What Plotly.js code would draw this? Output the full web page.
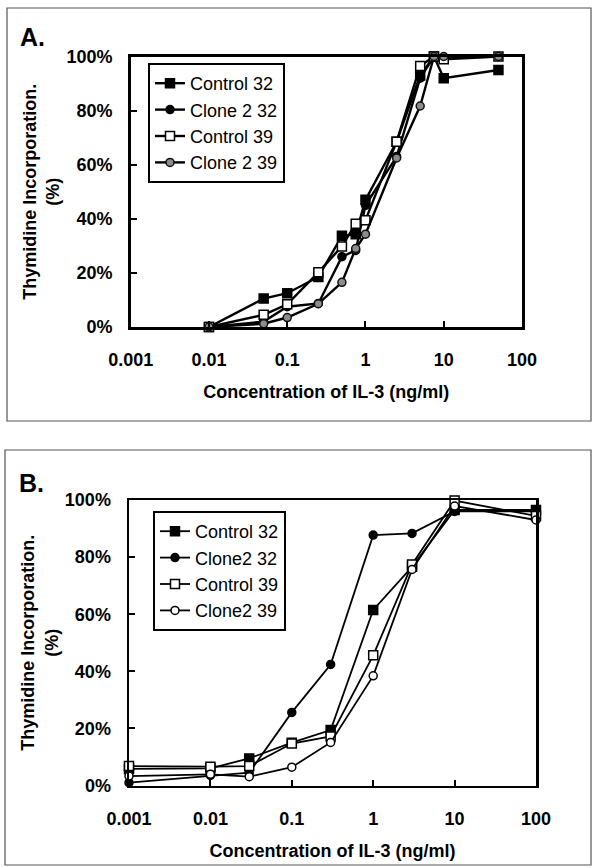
<!DOCTYPE html>
<html>
<head>
<meta charset="utf-8">
<script src="https://cdn.plot.ly/plotly-3.0.1.min.js"></script>
<style>
  html, body { margin: 0; padding: 0; background: #ffffff; }
  #chart { width: 594px; height: 868px; }
</style>
</head>
<body>
<div id="chart"></div>
<script>
// ---------- Data ----------
const concA = [0.01, 0.05, 0.1, 0.25, 0.5, 0.75, 1, 2.5, 5, 7.5, 10, 50];
const aControl32 = [0, 10.5, 12.5, 18.5, 33.7, 34.3, 47, 68.5, 93, 100, 92, 95];
const aClone2_32 = [0, 2, 7.5, 8.7, 26, 28.3, 45, 63, 92, 100, 99.5, 100];
const aControl39 = [0, 4.5, 8.4, 20.2, 29.8, 38.2, 39.5, 68.5, 96.5, 100, 99, 100];
const aClone2_39 = [0, 1.2, 3.5, 8.6, 16.5, 29, 34.3, 62.5, 81.7, 100, 100, 100];

const concB = [0.001, 0.01, 0.03, 0.1, 0.3, 1, 3, 10, 100];
const bControl32 = [5.8, 6, 9.5, 15, 19.4, 61.5, 76.6, 96.5, 96.5];
const bClone2_32 = [1, 3.5, 4.5, 25.6, 42.4, 87.7, 88.3, 96, 96];
const bControl39 = [6.8, 6.6, 6.8, 14.7, 17.2, 45.6, 77.4, 99.8, 94.4];
const bClone2_39 = [3.3, 3.9, 3.1, 6.4, 15.1, 38.4, 75.7, 97.9, 93];

const namesA = ['Control 32', 'Clone 2 32', 'Control 39', 'Clone 2 39'];
const namesB = ['Control 32', 'Clone2 32', 'Control 39', 'Clone2 39'];

const xTickVals = [0.001, 0.01, 0.1, 1, 10, 100];
const xTickText = ['0.001', '0.01', '0.1', '1', '10', '100'];
const yTickVals = [0, 20, 40, 60, 80, 100];
const yTickText = ['0%', '20%', '40%', '60%', '80%', '100%'];

const xTitle = 'Concentration of IL-3 (ng/ml)';
const yTitle = 'Thymidine Incorporation.<br>(%)';

// ---------- Styles ----------
const FONT = 'Arial, "Liberation Sans", Helvetica, sans-serif';
const styleA = [
  {symbol: 'square', color: '#000', lineColor: '#000', size: 9},
  {symbol: 'circle', color: '#000', lineColor: '#000', size: 8},
  {symbol: 'square', color: '#fff', lineColor: '#000', size: 9},
  {symbol: 'circle', color: '#8c8c8c', lineColor: '#111', size: 8}
];
const styleB = [
  {symbol: 'square', color: '#000', lineColor: '#000', size: 9},
  {symbol: 'circle', color: '#000', lineColor: '#000', size: 8},
  {symbol: 'square', color: '#fff', lineColor: '#000', size: 9},
  {symbol: 'circle', color: '#fff', lineColor: '#000', size: 8}
];

function mk(x, y, name, st, xa, ya, leg, lw) {
  return {
    type: 'scatter', mode: 'lines+markers', x: x, y: y, name: name,
    xaxis: xa, yaxis: ya, legend: leg, cliponaxis: false,
    line: {color: '#000', width: lw},
    marker: {symbol: st.symbol, color: st.color, size: st.size,
             line: {color: st.lineColor, width: 1.5}}
  };
}

const seriesA = [aControl32, aClone2_32, aControl39, aClone2_39];
const seriesB = [bControl32, bClone2_32, bControl39, bClone2_39];
const traces = [];
seriesA.forEach((s, i) => traces.push(mk(concA, s, namesA[i], styleA[i], 'x', 'y', 'legend', 2.4)));
seriesB.forEach((s, i) => traces.push(mk(concB, s, namesB[i], styleB[i], 'x2', 'y2', 'legend2', 1.8)));

const W = 594, H = 868;
const px = v => v / W;
const py = v => 1 - v / H;

function xAxis(domainL, domainR, anchor) {
  return {
    type: 'log', range: [-3, 2], domain: [px(domainL), px(domainR)], anchor: anchor,
    tickmode: 'array', tickvals: xTickVals, ticktext: xTickText,
    ticks: 'inside', ticklen: 6, tickwidth: 2, tickcolor: '#000',
    showline: true, linecolor: '#000', linewidth: 2.5, mirror: true,
    showgrid: false, zeroline: false,
    tickfont: {family: FONT, size: 18, color: '#000', weight: 'bold'},
    ticklabelstandoff: 15,
    title: {text: xTitle, standoff: 17, font: {family: FONT, size: 18, color: '#000', weight: 'bold'}}
  };
}
function yAxis(top, bottom, anchor) {
  return {
    range: [0, 100], domain: [py(bottom), py(top)], anchor: anchor,
    tickmode: 'array', tickvals: yTickVals, ticktext: yTickText,
    ticks: 'inside', ticklen: 6, tickwidth: 2, tickcolor: '#000',
    showline: true, linecolor: '#000', linewidth: 2.5, mirror: true,
    showgrid: false, zeroline: false,
    tickfont: {family: FONT, size: 18, color: '#000', weight: 'bold'},
    ticklabelstandoff: 12,
    title: {text: yTitle, standoff: 2, font: {family: FONT, size: 18, color: '#000', weight: 'bold'}}
  };
}

const legendBase = {
  xanchor: 'left', yanchor: 'top', bgcolor: '#fff',
  bordercolor: '#000', borderwidth: 2,
  font: {family: FONT, size: 18, color: '#000'},
  itemclick: false, itemdoubleclick: false, tracegroupgap: 0
};

const layout = {
  width: W, height: H,
  margin: {l: 0, r: 0, t: 0, b: 0},
  paper_bgcolor: '#fff', plot_bgcolor: '#fff',
  showlegend: true,
  xaxis: xAxis(130.7, 522, 'y'),
  yaxis: yAxis(56.5, 327, 'x'),
  xaxis2: xAxis(129, 536, 'y2'),
  yaxis2: yAxis(500, 785.5, 'x2'),
  legend: Object.assign({}, legendBase, {x: px(148), y: py(63)}),
  legend2: Object.assign({}, legendBase, {x: px(153), y: py(511)}),
  shapes: [
    {type: 'rect', xref: 'paper', yref: 'paper', x0: px(7), x1: px(591), y0: py(421), y1: py(8),
     line: {color: '#555', width: 1.2}, layer: 'below'},
    {type: 'rect', xref: 'paper', yref: 'paper', x0: px(5), x1: px(591), y0: py(865), y1: py(450),
     line: {color: '#555', width: 1.2}, layer: 'below'}
  ],
  annotations: [
    {text: 'A.', xref: 'paper', yref: 'paper', x: px(18), y: py(37), xanchor: 'left', yanchor: 'middle',
     showarrow: false, font: {family: FONT, size: 25, color: '#000', weight: 'bold'}},
    {text: 'B.', xref: 'paper', yref: 'paper', x: px(17), y: py(483), xanchor: 'left', yanchor: 'middle',
     showarrow: false, font: {family: FONT, size: 25, color: '#000', weight: 'bold'}}
  ]
};

Plotly.newPlot('chart', traces, layout, {staticPlot: true, displayModeBar: false});
</script>
</body>
</html>
